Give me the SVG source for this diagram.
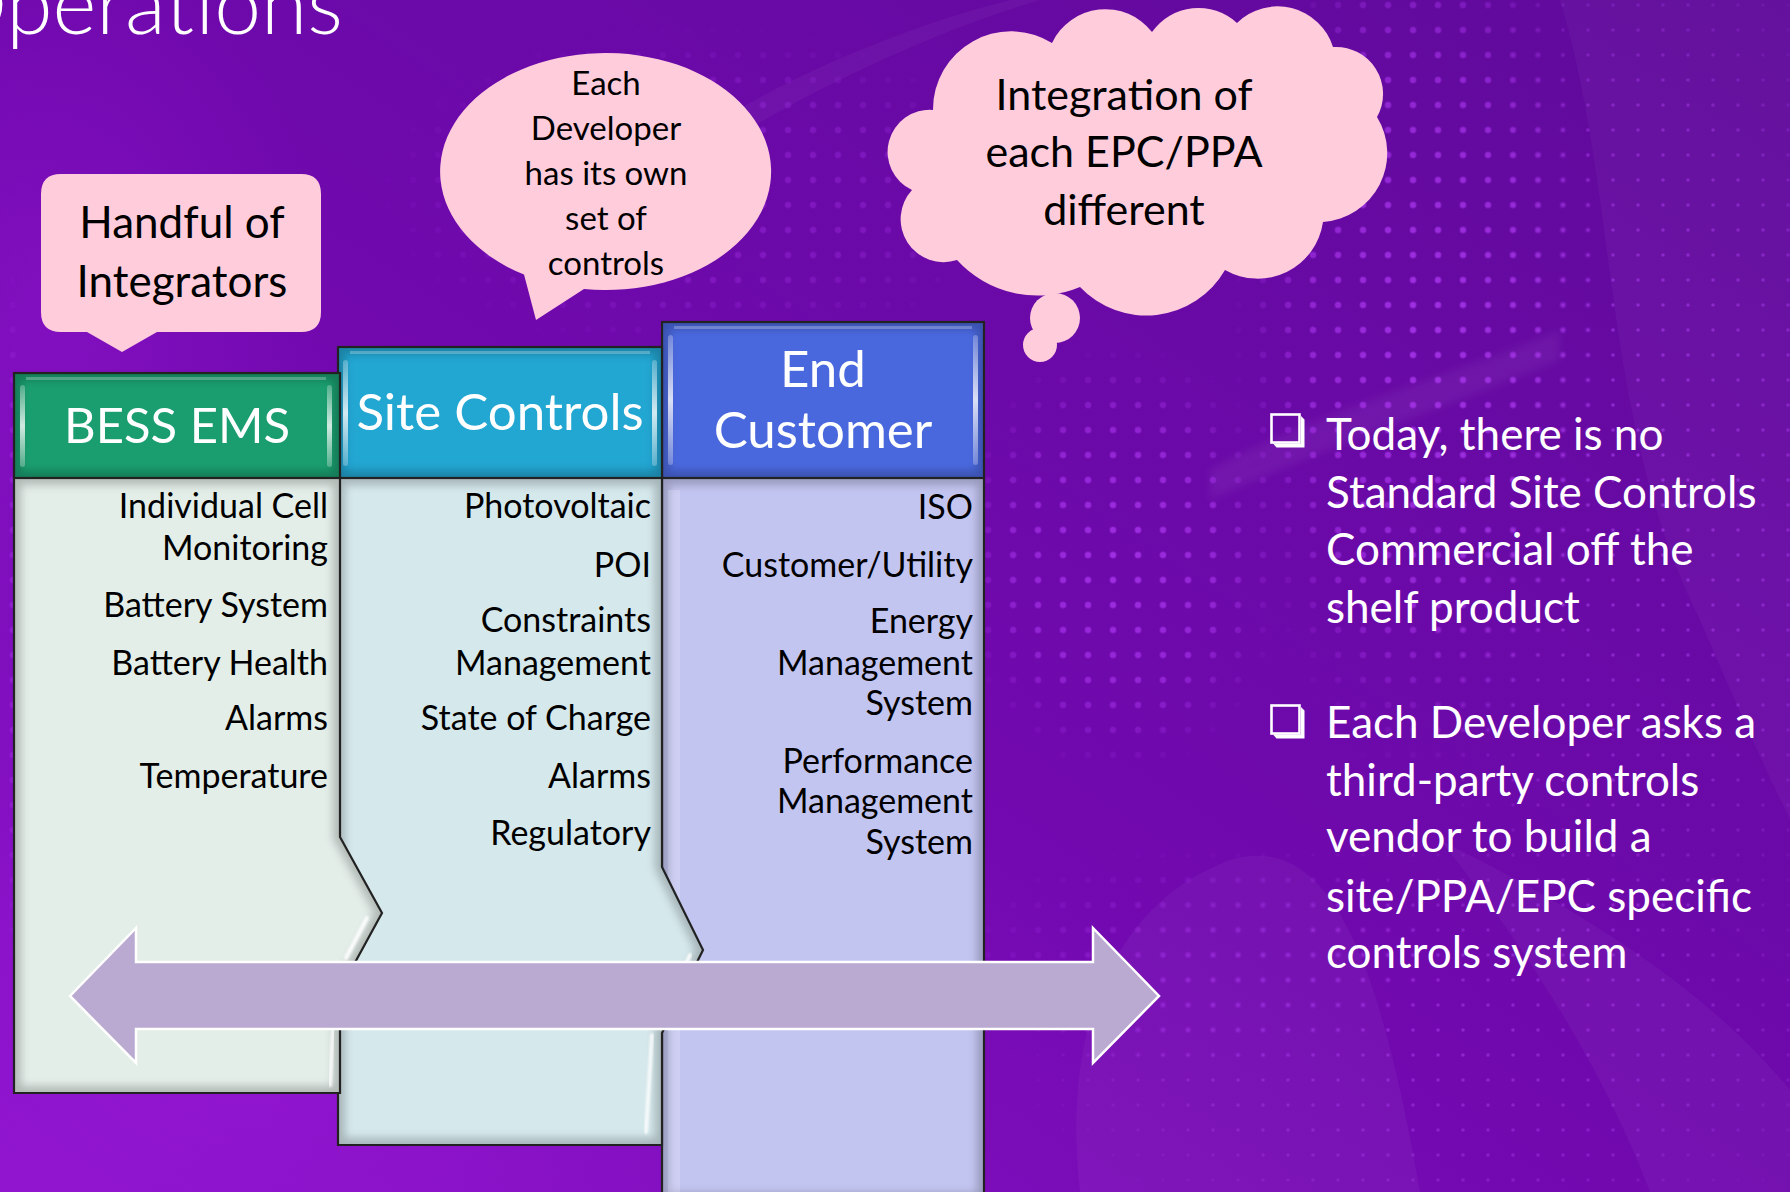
<svg xmlns="http://www.w3.org/2000/svg" width="1790" height="1192" viewBox="0 0 1790 1192">
  <defs>
    <style>
      text { font-family: Lato, "Liberation Sans", sans-serif; }
      .title { font-size: 84px; font-weight: 300; fill: #ffffff; }
      .hdr { font-size: 51px; fill: #ffffff; text-anchor: middle; }
      .item { font-size: 34px; fill: #000000; text-anchor: end; }
      .call { fill: #000000; text-anchor: middle; }
      .note { font-size: 44px; fill: #ffffff; }
      .bubble { fill: #FFCCDC; }
      .outline { fill: none; stroke: #222222; stroke-width: 2.2; stroke-linejoin: miter; }
      .shade { fill: none; stroke: #000000; stroke-opacity: 0.22; stroke-width: 14; filter: url(#soft); }
      .gleam { fill: none; stroke: #ffffff; stroke-linecap: round; filter: url(#soft1); }
    </style>

    <linearGradient id="bg" x1="0" y1="1" x2="1" y2="0">
      <stop offset="0" stop-color="#8E14CC"/>
      <stop offset="0.45" stop-color="#7109AF"/>
      <stop offset="1" stop-color="#5F0A9A"/>
    </linearGradient>
    <radialGradient id="glowLeft" cx="0.5" cy="0.5" r="0.5">
      <stop offset="0" stop-color="#9A18D8" stop-opacity="0.55"/>
      <stop offset="1" stop-color="#9A18D8" stop-opacity="0"/>
    </radialGradient>
    <radialGradient id="fade" cx="0.5" cy="0.5" r="0.5">
      <stop offset="0" stop-color="#ffffff" stop-opacity="1"/>
      <stop offset="0.6" stop-color="#ffffff" stop-opacity="0.7"/>
      <stop offset="1" stop-color="#ffffff" stop-opacity="0"/>
    </radialGradient>

    <pattern id="dotsBig" patternUnits="userSpaceOnUse" x="0.5" y="-7.5" width="25" height="25">
      <circle cx="12.5" cy="12.5" r="3.2" fill="#A634EA"/>
    </pattern>
    <pattern id="dotsSmall" patternUnits="userSpaceOnUse" x="0.5" y="-7.5" width="25" height="25">
      <circle cx="12.5" cy="12.5" r="1.7" fill="#A238E4"/>
    </pattern>

    <mask id="maskBig">
      <rect width="1790" height="1192" fill="#000"/>
      <ellipse cx="700" cy="190" rx="330" ry="170" fill="url(#fade)" opacity="0.45"/>
      <ellipse cx="1120" cy="560" rx="170" ry="220" fill="url(#fade)" opacity="0.9"/>
      <ellipse cx="1420" cy="330" rx="190" ry="460" fill="url(#fade)" opacity="0.9"/>
      <ellipse cx="1200" cy="960" rx="260" ry="120" fill="url(#fade)" opacity="0.35"/>
      <ellipse cx="0" cy="620" rx="40" ry="380" fill="url(#fade)" opacity="0.6"/>
    </mask>
    <mask id="maskSmall">
      <rect width="1790" height="1192" fill="#000"/>
      <ellipse cx="1640" cy="450" rx="260" ry="600" fill="url(#fade)" opacity="0.8"/>
      <ellipse cx="1450" cy="1040" rx="460" ry="220" fill="url(#fade)" opacity="0.7"/>
    </mask>

    <filter id="soft" x="-10%" y="-10%" width="120%" height="120%">
      <feGaussianBlur stdDeviation="4"/>
    </filter>
    <filter id="soft1" x="-20%" y="-20%" width="140%" height="140%">
      <feGaussianBlur stdDeviation="1.2"/>
    </filter>

    <clipPath id="clipBess"><path d="M14 478 H340 V837 L382 913 L340 990 V1093 H14 Z"/></clipPath>
    <clipPath id="clipSite"><path d="M338 478 H662 V867 L703 950 L662 1033 V1145 H338 Z"/></clipPath>
    <clipPath id="clipEnd"><path d="M662 478 H984 V1200 H662 Z"/></clipPath>
    <clipPath id="clipHdrBess"><rect x="14" y="373" width="326" height="105"/></clipPath>
    <clipPath id="clipHdrSite"><rect x="338" y="347" width="324" height="131"/></clipPath>
    <clipPath id="clipHdrEnd"><rect x="662" y="322" width="322" height="156"/></clipPath>

    <linearGradient id="stripe" x1="0" y1="0" x2="0" y2="1">
      <stop offset="0" stop-color="#ffffff" stop-opacity="0.25"/>
      <stop offset="0.5" stop-color="#ffffff" stop-opacity="0.8"/>
      <stop offset="1" stop-color="#ffffff" stop-opacity="0.25"/>
    </linearGradient>
  </defs>

  <!-- backdrop: purple wash, soft ribbons and dot screens -->
  <g id="background">
    <rect width="1790" height="1192" fill="url(#bg)"/>
    <ellipse cx="260" cy="1050" rx="520" ry="320" fill="url(#glowLeft)"/>
    <ellipse cx="60" cy="300" rx="260" ry="380" fill="url(#glowLeft)" opacity="0.6"/>
    <path d="M1560 0 C1620 200 1600 420 1700 620 C1760 760 1790 820 1790 820 V0 Z" fill="#ffffff" opacity="0.035"/>
    <path d="M1080 1192 C1060 1020 1120 900 1230 860 C1330 830 1380 960 1420 1192 Z" fill="#ffffff" opacity="0.04"/>
    <path d="M1440 840 C1560 900 1700 980 1790 1090 V1192 H1650 C1600 1060 1520 940 1440 840 Z" fill="#ffffff" opacity="0.04"/>
    <path d="M1210 470 C1320 410 1440 380 1560 330 L1560 360 C1440 410 1320 450 1210 500 Z" fill="#ffffff" opacity="0.05" filter="url(#soft)"/>
    <path d="M720 120 C820 60 930 20 1010 0 L1040 0 C940 30 830 80 730 140 Z" fill="#ffffff" opacity="0.04"/>
    <rect width="1790" height="1192" fill="url(#dotsBig)" mask="url(#maskBig)"/>
    <rect width="1790" height="1192" fill="url(#dotsSmall)" mask="url(#maskSmall)"/>
  </g>

  <text id="title" class="title" x="343" y="34" text-anchor="end">Operations</text>

  <!-- columns: bodies drawn right to left so each chevron tab overlaps its neighbour -->
  <g id="col-end-customer">
    <path d="M662 478 H984 V1200 H662 Z" fill="#C3C5F1"/>
    <g clip-path="url(#clipEnd)">
      <path class="shade" d="M662 478 H984 V1200 H662 Z"/>
      <rect x="668" y="490" width="12" height="710" fill="#ffffff" opacity="0.18"/>
    </g>
    <path class="outline" d="M662 478 H984 V1200 H662 Z"/>
    <rect x="662" y="322" width="322" height="156" fill="#4A68DE"/>
    <g clip-path="url(#clipHdrEnd)">
      <rect class="shade" x="662" y="322" width="322" height="156"/>
      <rect x="668" y="335" width="5" height="130" rx="2.5" fill="url(#stripe)"/>
      <rect x="973" y="335" width="5" height="130" rx="2.5" fill="url(#stripe)"/>
      <rect x="674" y="326" width="298" height="3" fill="#ffffff" opacity="0.25"/>
    </g>
    <rect class="outline" x="662" y="322" width="322" height="156"/>
    <text class="hdr" x="823" y="387">End</text>
    <text class="hdr" x="823" y="448">Customer</text>
    <text class="item" x="973" y="519">ISO</text>
    <text class="item" x="973" y="577">Customer/Utility</text>
    <text class="item" x="973" y="633">Energy</text>
    <text class="item" x="973" y="675">Management</text>
    <text class="item" x="973" y="715">System</text>
    <text class="item" x="973" y="773">Performance</text>
    <text class="item" x="973" y="813">Management</text>
    <text class="item" x="973" y="854">System</text>
  </g>

  <g id="col-site-controls">
    <path d="M338 478 H662 V867 L703 950 L662 1033 V1145 H338 Z" fill="#D5E8EC"/>
    <g clip-path="url(#clipSite)">
      <path class="shade" d="M338 478 H662 V867 L703 950 L662 1033 V1145 H338 Z"/>
      <path class="gleam" d="M690 955 L681 975" stroke-width="4" opacity="0.9"/>
      <path class="gleam" d="M652 1035 L646 1132" stroke-width="4" opacity="0.8"/>
    </g>
    <path class="outline" d="M338 478 H662 V867 L703 950 L662 1033 V1145 H338 Z"/>
    <rect x="338" y="347" width="324" height="131" fill="#22A6D2"/>
    <g clip-path="url(#clipHdrSite)">
      <rect class="shade" x="338" y="347" width="324" height="131"/>
      <rect x="343" y="360" width="5" height="106" rx="2.5" fill="url(#stripe)"/>
      <rect x="652" y="360" width="5" height="106" rx="2.5" fill="url(#stripe)"/>
      <rect x="350" y="351" width="300" height="3" fill="#ffffff" opacity="0.25"/>
    </g>
    <rect class="outline" x="338" y="347" width="324" height="131"/>
    <text class="hdr" x="500" y="430">Site Controls</text>
    <text class="item" x="651" y="518">Photovoltaic</text>
    <text class="item" x="651" y="577">POI</text>
    <text class="item" x="651" y="632">Constraints</text>
    <text class="item" x="651" y="675">Management</text>
    <text class="item" x="651" y="730">State of Charge</text>
    <text class="item" x="651" y="788">Alarms</text>
    <text class="item" x="651" y="845">Regulatory</text>
  </g>

  <g id="col-bess-ems">
    <path d="M14 478 H340 V837 L382 913 L340 990 V1093 H14 Z" fill="#E4EEE9"/>
    <g clip-path="url(#clipBess)">
      <path class="shade" d="M14 478 H340 V837 L382 913 L340 990 V1093 H14 Z"/>
      <path class="gleam" d="M367 918 L346 958" stroke-width="4" opacity="0.9"/>
      <path class="gleam" d="M333 1030 L330 1085" stroke-width="4" opacity="0.8"/>
    </g>
    <path class="outline" d="M14 478 H340 V837 L382 913 L340 990 V1093 H14 Z"/>
    <rect x="14" y="373" width="326" height="105" fill="#1A9E6F"/>
    <g clip-path="url(#clipHdrBess)">
      <rect class="shade" x="14" y="373" width="326" height="105"/>
      <rect x="20" y="385" width="5" height="82" rx="2.5" fill="url(#stripe)"/>
      <rect x="327" y="385" width="5" height="82" rx="2.5" fill="url(#stripe)"/>
      <rect x="26" y="377" width="300" height="3" fill="#ffffff" opacity="0.25"/>
    </g>
    <rect class="outline" x="14" y="373" width="326" height="105"/>
    <text class="hdr" x="177" y="443" style="font-size:49px">BESS EMS</text>
    <text class="item" x="328" y="518">Individual Cell</text>
    <text class="item" x="328" y="560">Monitoring</text>
    <text class="item" x="328" y="617">Battery System</text>
    <text class="item" x="328" y="675">Battery Health</text>
    <text class="item" x="328" y="730">Alarms</text>
    <text class="item" x="328" y="788">Temperature</text>
  </g>

  <!-- two-way arrow spanning the three columns -->
  <g id="connectors">
    <path d="M70 996 L136 928 V962 H1093 V928 L1159 996 L1093 1063 V1029 H136 V1063 Z" fill="#BAA9D1" stroke="#ffffff" stroke-width="2.5" stroke-linejoin="miter"/>
  </g>

  <g id="callout-integrators">
    <path class="bubble" d="M61 174 H301 Q321 174 321 194 V312 Q321 332 301 332 H157 L122 352 L87 332 H61 Q41 332 41 312 V194 Q41 174 61 174 Z"/>
    <text class="call" x="182" y="238" font-size="44">Handful of</text>
    <text class="call" x="182" y="297" font-size="44">Integrators</text>
  </g>

  <g id="callout-developer">
    <path class="bubble" d="M584 289 A165.5 118.5 0 1 0 524 274.6 L536 320 Z"/>
    <text class="call" x="606" y="95" font-size="33">Each</text>
    <text class="call" x="606" y="140" font-size="33">Developer</text>
    <text class="call" x="606" y="185" font-size="33">has its own</text>
    <text class="call" x="606" y="230" font-size="33">set of</text>
    <text class="call" x="606" y="275" font-size="33">controls</text>
  </g>

  <g id="callout-integration">
    <path class="bubble" d="M933 110 A78 78 0 0 1 1052 43 A59 59 0 0 1 1152 32 A57 57 0 0 1 1237 23 A58 58 0 0 1 1333 47 A47 47 0 0 1 1377 117 A69 69 0 0 1 1323 222 A66 66 0 0 1 1225 270 A91 91 0 0 1 1080 287 A109 109 0 0 1 957 260 A43 43 0 0 1 912 190 A42 42 0 0 1 933 110 Z"/>
    <circle class="bubble" cx="1055" cy="318" r="25"/>
    <circle class="bubble" cx="1040" cy="345" r="17"/>
    <text class="call" x="1124" y="110" font-size="43">Integration of</text>
    <text class="call" x="1124" y="167" font-size="43">each EPC/PPA</text>
    <text class="call" x="1124" y="225" font-size="43">different</text>
  </g>

  <g id="notes">
    <g id="bullet-1">
      <rect x="1271.5" y="414.5" width="28" height="28" fill="none" stroke="#ffffff" stroke-width="2.6"/>
      <path d="M1273 443.5 H1301 V416 L1304.5 419.5 V447.5 H1276.5 Z" fill="#ffffff"/>
    </g>
    <text class="note" x="1326" y="450">Today, there is no</text>
    <text class="note" x="1326" y="508">Standard Site Controls</text>
    <text class="note" x="1326" y="565">Commercial off the</text>
    <text class="note" x="1326" y="623">shelf product</text>
    <g id="bullet-2">
      <rect x="1271.5" y="705.5" width="28" height="28" fill="none" stroke="#ffffff" stroke-width="2.6"/>
      <path d="M1273 734.5 H1301 V707 L1304.5 710.5 V738.5 H1276.5 Z" fill="#ffffff"/>
    </g>
    <text class="note" x="1326" y="738">Each Developer asks a</text>
    <text class="note" x="1326" y="796">third-party controls</text>
    <text class="note" x="1326" y="852">vendor to build a</text>
    <text class="note" x="1326" y="912">site/PPA/EPC specific</text>
    <text class="note" x="1326" y="968">controls system</text>
  </g>
</svg>
